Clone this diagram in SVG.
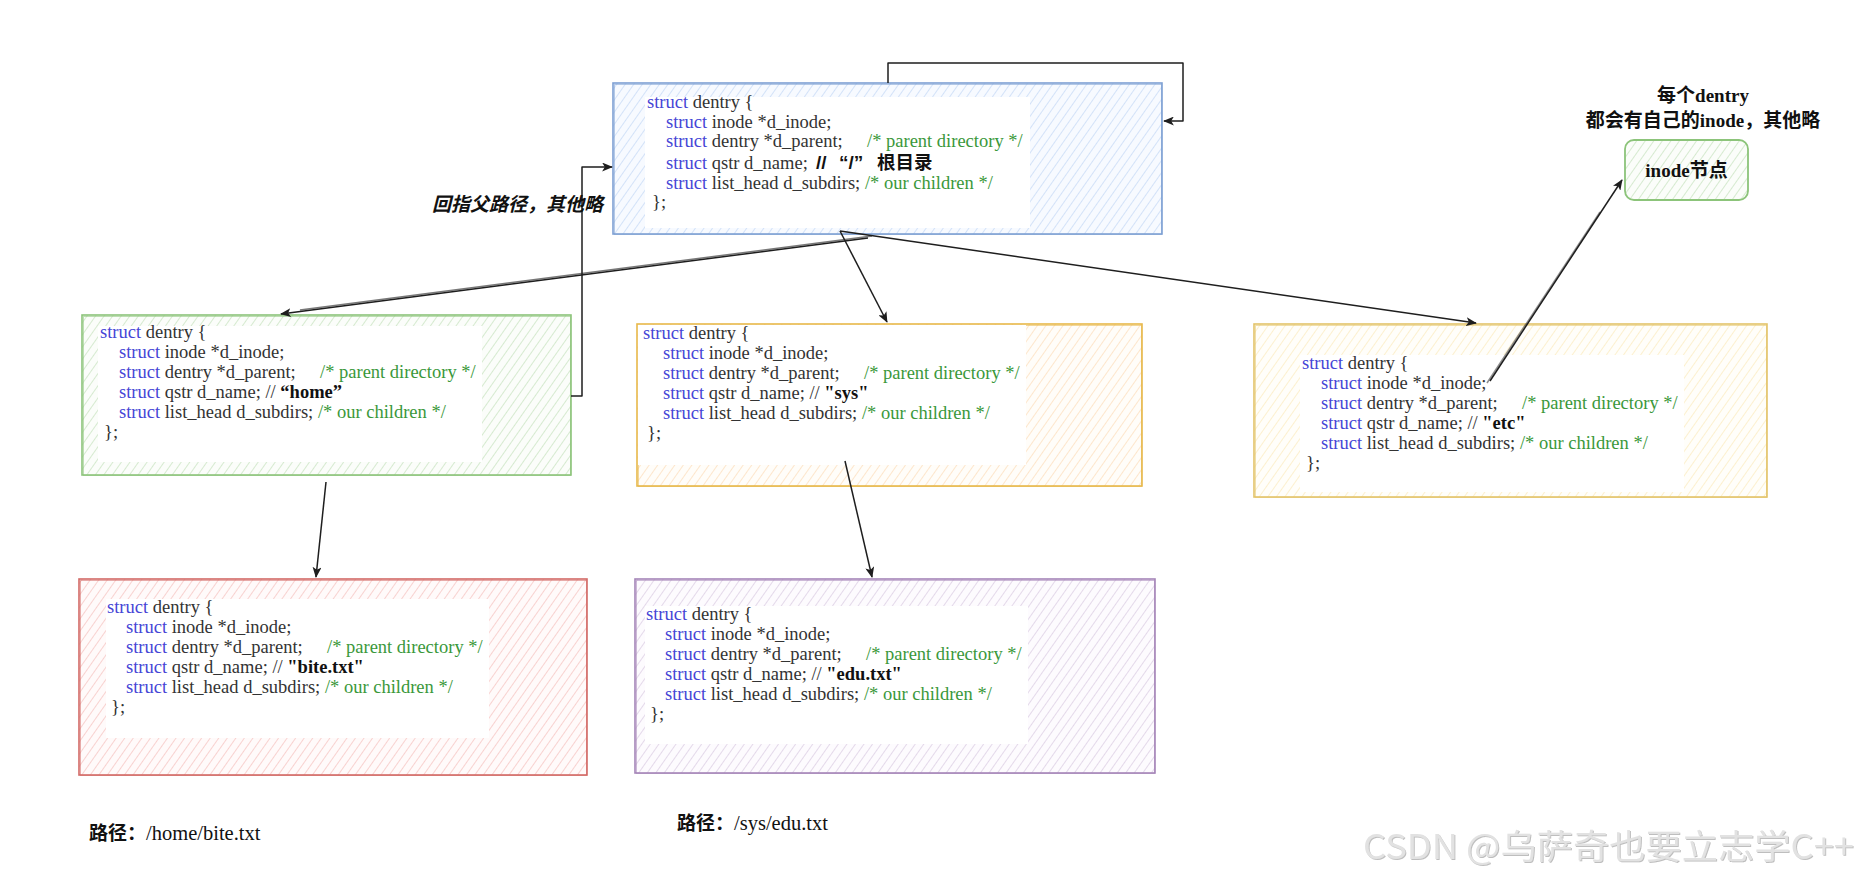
<svg xmlns="http://www.w3.org/2000/svg" width="1862" height="878" viewBox="0 0 1862 878">
<style>
.code{font-family:"Liberation Serif","Noto Sans CJK SC",serif;font-size:18.5px;fill:#333}
.kw{fill:#4545d6}
.cm{fill:#3a983a}
.nm{font-weight:bold;fill:#111}
.cjkb{font-family:"Noto Sans CJK SC",sans-serif;font-weight:bold;fill:#111}
.sansb{font-family:"Liberation Sans","Noto Sans CJK SC",sans-serif;font-weight:bold;fill:#111}
.lbl{font-family:"Liberation Serif","Noto Sans CJK SC",serif;font-weight:bold;font-size:19px;fill:#111}
.edge{fill:none;stroke:#1e1e1e;stroke-width:1.5;stroke-linejoin:round}
.box{stroke-width:1.6}
.box2{fill:none;stroke-width:1;opacity:.55}
.inner{fill:#fff}
</style>
<defs>
<pattern id="hb" width="7" height="7" patternUnits="userSpaceOnUse" patternTransform="rotate(35)"><rect width="7" height="7" fill="#f7faff"/><line x1="0" y1="0" x2="0" y2="7" stroke="#d3e2f8" stroke-width="2"/></pattern>
<pattern id="hg" width="7" height="7" patternUnits="userSpaceOnUse" patternTransform="rotate(35)"><rect width="7" height="7" fill="#fbfdfa"/><line x1="0" y1="0" x2="0" y2="7" stroke="#d6ead0" stroke-width="2"/></pattern>
<pattern id="ho" width="7" height="7" patternUnits="userSpaceOnUse" patternTransform="rotate(35)"><rect width="7" height="7" fill="#fffdf9"/><line x1="0" y1="0" x2="0" y2="7" stroke="#fde6cc" stroke-width="2"/></pattern>
<pattern id="hy" width="7" height="7" patternUnits="userSpaceOnUse" patternTransform="rotate(35)"><rect width="7" height="7" fill="#fffefa"/><line x1="0" y1="0" x2="0" y2="7" stroke="#fcf0cf" stroke-width="2"/></pattern>
<pattern id="hr" width="7" height="7" patternUnits="userSpaceOnUse" patternTransform="rotate(35)"><rect width="7" height="7" fill="#fffafa"/><line x1="0" y1="0" x2="0" y2="7" stroke="#f8d2d0" stroke-width="2"/></pattern>
<pattern id="hp" width="7" height="7" patternUnits="userSpaceOnUse" patternTransform="rotate(35)"><rect width="7" height="7" fill="#fdfbfe"/><line x1="0" y1="0" x2="0" y2="7" stroke="#e4d9ea" stroke-width="2"/></pattern>
<marker id="ah" viewBox="0 0 12 10" refX="11" refY="5" markerWidth="11" markerHeight="9" markerUnits="userSpaceOnUse" orient="auto"><path d="M0,0 L12,5 L0,10 L3,5 Z" fill="#1e1e1e"/></marker>
<filter id="emb" x="-5%" y="-20%" width="110%" height="140%"><feDropShadow dx="1" dy="1" stdDeviation="0.6" flood-color="#888" flood-opacity="0.55"/></filter>
</defs>
<rect width="1862" height="878" fill="#fff"/>

<g id="root" class="code">
<rect class="box" x="613" y="83" width="549" height="151" fill="url(#hb)" stroke="#7ea0d4"/>
<rect class="box2" x="614.5" y="84.5" width="547" height="150" stroke="#7ea0d4"/>
<rect class="inner" x="645" y="97" width="385" height="131"/>
<text x="647" y="108"><tspan class="kw">struct</tspan> dentry {</text>
<text x="666" y="127.5"><tspan class="kw">struct</tspan> inode *d_inode;</text>
<text x="666" y="147"><tspan class="kw">struct</tspan> dentry *d_parent;</text>
<text x="867" y="147" class="cm">/* parent directory */</text>
<text x="666" y="169"><tspan class="kw">struct</tspan> qstr d_name; <tspan class="sansb" x="816" font-size="19">//</tspan><tspan class="sansb" x="839" font-size="19">“/”</tspan><tspan class="sansb" x="877" font-size="18.5">根目录</tspan></text>
<text x="666" y="188.5"><tspan class="kw">struct</tspan> list_head d_subdirs; <tspan class="cm">/* our children */</tspan></text>
<text x="652" y="208">};</text>
</g>

<g id="home" class="code">
<rect class="box" x="82" y="315" width="489" height="160" fill="url(#hg)" stroke="#8cc47a"/>
<rect class="box2" x="83.5" y="316.5" width="487" height="159" stroke="#8cc47a"/>
<rect class="inner" x="98" y="326" width="384" height="136"/>
<text x="100" y="338"><tspan class="kw">struct</tspan> dentry {</text>
<text x="119" y="358"><tspan class="kw">struct</tspan> inode *d_inode;</text>
<text x="119" y="378"><tspan class="kw">struct</tspan> dentry *d_parent;</text>
<text x="320" y="378" class="cm">/* parent directory */</text>
<text x="119" y="398"><tspan class="kw">struct</tspan> qstr d_name; // <tspan class="nm">“home”</tspan></text>
<text x="119" y="418"><tspan class="kw">struct</tspan> list_head d_subdirs; <tspan class="cm">/* our children */</tspan></text>
<text x="104" y="438">};</text>
</g>

<g id="sys" class="code">
<rect class="box" x="637" y="324" width="505" height="162" fill="url(#ho)" stroke="#e8b84a"/>
<rect class="box2" x="638.5" y="325.5" width="503" height="161" stroke="#e8b84a"/>
<rect class="inner" x="638" y="325" width="388" height="140"/>
<text x="643" y="339"><tspan class="kw">struct</tspan> dentry {</text>
<text x="663" y="359"><tspan class="kw">struct</tspan> inode *d_inode;</text>
<text x="663" y="379"><tspan class="kw">struct</tspan> dentry *d_parent;</text>
<text x="864" y="379" class="cm">/* parent directory */</text>
<text x="663" y="399"><tspan class="kw">struct</tspan> qstr d_name; // <tspan class="nm">"sys"</tspan></text>
<text x="663" y="419"><tspan class="kw">struct</tspan> list_head d_subdirs; <tspan class="cm">/* our children */</tspan></text>
<text x="647" y="439">};</text>
</g>

<g id="etc" class="code">
<rect class="box" x="1254" y="324" width="513" height="173" fill="url(#hy)" stroke="#e3c46a"/>
<rect class="box2" x="1255.5" y="325.5" width="511" height="172" stroke="#e3c46a"/>
<rect class="inner" x="1300" y="355" width="384" height="137"/>
<text x="1302" y="368.5"><tspan class="kw">struct</tspan> dentry {</text>
<text x="1321" y="388.5"><tspan class="kw">struct</tspan> inode *d_inode;</text>
<text x="1321" y="408.5"><tspan class="kw">struct</tspan> dentry *d_parent;</text>
<text x="1522" y="408.5" class="cm">/* parent directory */</text>
<text x="1321" y="428.5"><tspan class="kw">struct</tspan> qstr d_name; // <tspan class="nm">"etc"</tspan></text>
<text x="1321" y="448.5"><tspan class="kw">struct</tspan> list_head d_subdirs; <tspan class="cm">/* our children */</tspan></text>
<text x="1306" y="468.5">};</text>
</g>

<g id="bite" class="code">
<rect class="box" x="79" y="579" width="508" height="196" fill="url(#hr)" stroke="#d36a66"/>
<rect class="box2" x="80.5" y="580.5" width="506" height="195" stroke="#d36a66"/>
<rect class="inner" x="106" y="599" width="383" height="139"/>
<text x="107" y="613"><tspan class="kw">struct</tspan> dentry {</text>
<text x="126" y="633"><tspan class="kw">struct</tspan> inode *d_inode;</text>
<text x="126" y="653"><tspan class="kw">struct</tspan> dentry *d_parent;</text>
<text x="327" y="653" class="cm">/* parent directory */</text>
<text x="126" y="673"><tspan class="kw">struct</tspan> qstr d_name; // <tspan class="nm">"bite.txt"</tspan></text>
<text x="126" y="693"><tspan class="kw">struct</tspan> list_head d_subdirs; <tspan class="cm">/* our children */</tspan></text>
<text x="111" y="713">};</text>
</g>

<g id="edu" class="code">
<rect class="box" x="635" y="579" width="520" height="194" fill="url(#hp)" stroke="#a585b8"/>
<rect class="box2" x="636.5" y="580.5" width="518" height="193" stroke="#a585b8"/>
<rect class="inner" x="645" y="606" width="383" height="138"/>
<text x="646" y="620"><tspan class="kw">struct</tspan> dentry {</text>
<text x="665" y="640"><tspan class="kw">struct</tspan> inode *d_inode;</text>
<text x="665" y="660"><tspan class="kw">struct</tspan> dentry *d_parent;</text>
<text x="866" y="660" class="cm">/* parent directory */</text>
<text x="665" y="680"><tspan class="kw">struct</tspan> qstr d_name; // <tspan class="nm">"edu.txt"</tspan></text>
<text x="665" y="700"><tspan class="kw">struct</tspan> list_head d_subdirs; <tspan class="cm">/* our children */</tspan></text>
<text x="650" y="720">};</text>
</g>

<g id="inode">
<rect x="1625" y="140" width="123" height="60" rx="9" fill="url(#hg)" stroke="#8cc47a" stroke-width="1.8"/>
<text x="1686.5" y="177" text-anchor="middle" class="lbl" font-size="18">inode<tspan class="cjkb">节点</tspan></text>
</g>

<g id="connectors">
<path class="edge" d="M888,83 L888,63 L1183,63 L1183,121 L1164,121" marker-end="url(#ah)"/>
<path class="edge" d="M571,396 L582,396 L582,167 L612,167" marker-end="url(#ah)"/>
<path class="edge" d="M868,238 L281,314" marker-end="url(#ah)"/>
<path class="edge" d="M872,236 L300,310" opacity=".6"/>
<path class="edge" d="M840,231 L887,322" marker-end="url(#ah)"/>
<path class="edge" d="M840,231 L1476,323" marker-end="url(#ah)"/>
<path class="edge" d="M326,482 L316,577" marker-end="url(#ah)"/>
<path class="edge" d="M845,461 L872,577" marker-end="url(#ah)"/>
<path class="edge" d="M1490,381 L1622,180" marker-end="url(#ah)"/>
<path class="edge" d="M1487,383 L1600,212" opacity=".5"/>
</g>

<g id="labels">
<text x="1703" y="102" text-anchor="middle" class="lbl"><tspan class="cjkb">每个</tspan>dentry</text>
<text x="1703" y="127" text-anchor="middle" class="lbl"><tspan class="cjkb">都会有自己的</tspan>inode<tspan class="cjkb">，其他略</tspan></text>
<text x="432" y="211" class="cjkb" font-size="19" font-style="italic">回指父路径，其他略</text>
<text x="89" y="840" class="lbl"><tspan class="cjkb">路径：</tspan><tspan font-weight="normal" font-size="20.5">/home/bite.txt</tspan></text>
<text x="677" y="830" class="lbl"><tspan class="cjkb">路径：</tspan><tspan font-weight="normal" font-size="20.5">/sys/edu.txt</tspan></text>
<text x="1363" y="859" font-family="'Noto Sans CJK SC','Noto Sans',sans-serif" font-size="34" fill="#e2e2e2" filter="url(#emb)" textLength="491" lengthAdjust="spacingAndGlyphs">CSDN @乌萨奇也要立志学C++</text>
</g>
</svg>
